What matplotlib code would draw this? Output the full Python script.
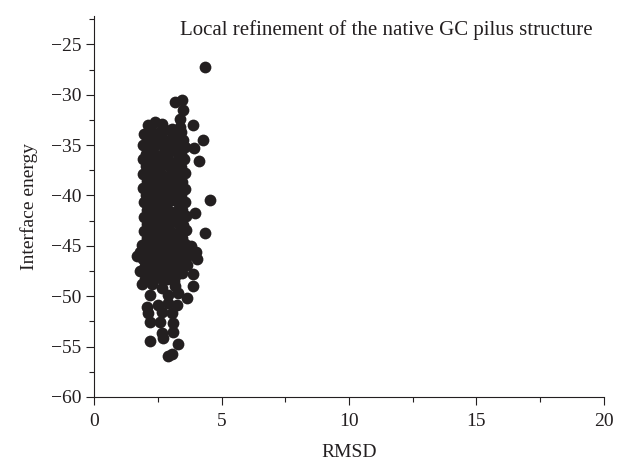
import matplotlib
matplotlib.use("Agg")
import matplotlib.pyplot as plt
from matplotlib.ticker import MultipleLocator

plt.rcParams['font.family'] = ['Liberation Serif', 'DejaVu Serif']

# outlying / sparse points
rmsd_sparse = [4.34, 3.16, 3.44, 3.47, 3.36, 3.87, 2.10, 2.37, 2.65, 3.04, 3.36,
               4.26, 3.90, 4.10, 4.55, 3.95, 4.34, 1.67, 1.79, 1.87, 3.87, 3.63,
               4.02, 3.87, 2.26, 2.65, 3.16, 2.18, 2.89, 3.28, 2.06, 2.49, 2.89,
               3.24, 2.10, 2.65, 3.04, 2.18, 2.57, 3.10, 2.65, 3.10, 2.18, 2.69,
               3.28, 2.89, 3.04]
energy_sparse = [-27.2, -30.7, -30.5, -31.5, -32.4, -33.0, -33.0, -32.7, -32.9, -33.4, -33.2,
                 -34.5, -35.3, -36.6, -40.5, -41.7, -43.7, -46.0, -47.5, -48.8, -49.0, -50.2,
                 -46.3, -47.8, -48.8, -49.2, -49.0, -49.9, -49.9, -49.7, -51.1, -50.9, -50.7,
                 -50.9, -51.7, -51.6, -51.7, -52.6, -52.6, -52.7, -53.7, -53.6, -54.4, -54.2,
                 -54.7, -55.9, -55.7]

# dense core of the cloud
rmsd_core = [
    1.95, 2.22, 2.50, 2.78, 3.10, 3.42,
    2.05, 2.35, 2.62, 2.90, 3.18, 3.48,
    1.92, 2.20, 2.46, 2.75, 3.02, 3.30, 3.55,
    2.04, 2.32, 2.60, 2.88, 3.15, 3.42,
    1.90, 2.18, 2.45, 2.73, 3.00, 3.28, 3.52,
    2.03, 2.30, 2.58, 2.86, 3.14, 3.40,
    1.92, 2.17, 2.44, 2.72, 3.00, 3.27, 3.54,
    2.05, 2.33, 2.60, 2.88, 3.16, 3.44,
    1.90, 2.19, 2.47, 2.74, 3.02, 3.30, 3.55,
    2.04, 2.31, 2.59, 2.86, 3.13, 3.42,
    1.93, 2.20, 2.48, 2.76, 3.04, 3.31, 3.56,
    2.06, 2.34, 2.62, 2.90, 3.17, 3.45,
    1.95, 2.22, 2.50, 2.78, 3.05, 3.33, 3.58,
    2.08, 2.36, 2.64, 2.92, 3.20, 3.48,
    1.96, 2.24, 2.52, 2.80, 3.08, 3.36, 3.60,
    2.06, 2.34, 2.62, 2.90, 3.18, 3.46,
    1.88, 2.16, 2.44, 2.72, 3.00, 3.28, 3.56, 3.80,
    1.80, 2.04, 2.32, 2.60, 2.88, 3.16, 3.44, 3.72, 3.98,
    1.92, 2.18, 2.46, 2.74, 3.02, 3.30, 3.58,
    1.98, 2.26, 2.54, 2.82, 3.10, 3.38, 3.62,
    2.08, 2.36, 2.64, 2.92, 3.20, 3.46,
    2.00, 2.28, 2.56, 2.84, 3.12,
]
energy_core = [
    -33.9, -33.6, -33.8, -33.5, -33.9, -33.7,
    -34.3, -34.5, -34.2, -34.6, -34.3, -34.5,
    -35.0, -35.2, -34.9, -35.1, -35.3, -35.0, -35.2,
    -35.9, -35.7, -36.0, -35.8, -35.6, -35.9,
    -36.4, -36.6, -36.5, -36.3, -36.7, -36.5, -36.4,
    -37.1, -37.3, -37.2, -37.0, -37.3, -37.2,
    -37.9, -38.0, -37.8, -38.1, -37.9, -38.0, -37.8,
    -38.6, -38.5, -38.8, -38.6, -38.4, -38.7,
    -39.3, -39.4, -39.2, -39.5, -39.3, -39.2, -39.4,
    -40.0, -40.1, -39.9, -40.0, -40.2, -40.0,
    -40.7, -40.6, -40.8, -40.7, -40.5, -40.8, -40.7,
    -41.4, -41.5, -41.3, -41.4, -41.6, -41.4,
    -42.1, -42.2, -42.0, -42.1, -42.3, -42.1, -42.0,
    -42.8, -42.7, -42.9, -42.8, -42.6, -42.9,
    -43.5, -43.6, -43.4, -43.5, -43.7, -43.5, -43.4,
    -44.2, -44.3, -44.1, -44.2, -44.4, -44.2,
    -44.9, -45.0, -44.8, -44.9, -45.1, -44.9, -44.8, -45.0,
    -45.6, -45.7, -45.5, -45.6, -45.8, -45.6, -45.5, -45.7, -45.6,
    -46.3, -46.4, -46.2, -46.3, -46.5, -46.3, -46.2,
    -47.0, -47.1, -46.9, -47.0, -47.2, -47.0, -46.9,
    -47.7, -47.8, -47.6, -47.7, -47.9, -47.7,
    -48.3, -48.4, -48.2, -48.3, -48.5,
]

fig = plt.figure(figsize=(6.29, 4.61), dpi=100)
ax = fig.add_axes([0.150, 0.139, 0.810, 0.826])

ax.scatter(rmsd_core + rmsd_sparse, energy_core + energy_sparse,
           s=72, color='#231f20', linewidths=0, zorder=3)

ax.set_xlim(0, 20)
ax.set_ylim(-60, -22.2)
ax.xaxis.set_major_locator(MultipleLocator(5))
ax.xaxis.set_minor_locator(MultipleLocator(2.5))
ax.yaxis.set_minor_locator(MultipleLocator(2.5))
ax.set_yticks(range(-60, -24, 5))

for s in ['top', 'right']:
    ax.spines[s].set_visible(False)
for s in ['left', 'bottom']:
    ax.spines[s].set_color('#231f20')
    ax.spines[s].set_linewidth(0.8)

ax.tick_params(which='major', direction='out', length=5.5, width=0.8,
               color='#231f20', labelsize=14, labelcolor='#231f20')
ax.tick_params(which='minor', direction='out', length=3.5, width=0.8,
               color='#231f20')
ax.tick_params(axis='x', which='major', pad=6)
ax.tick_params(axis='y', which='major', pad=4)

ax.set_xlabel('RMSD', fontsize=14, color='#231f20', labelpad=10)
ax.set_ylabel('Interface energy', fontsize=14, color='#231f20', labelpad=9)

ax.text(0.168, 0.963, 'Local refinement of the native GC pilus structure',
        transform=ax.transAxes, fontsize=15, color='#231f20',
        ha='left', va='center')

fig.savefig('out.png', dpi=100)
